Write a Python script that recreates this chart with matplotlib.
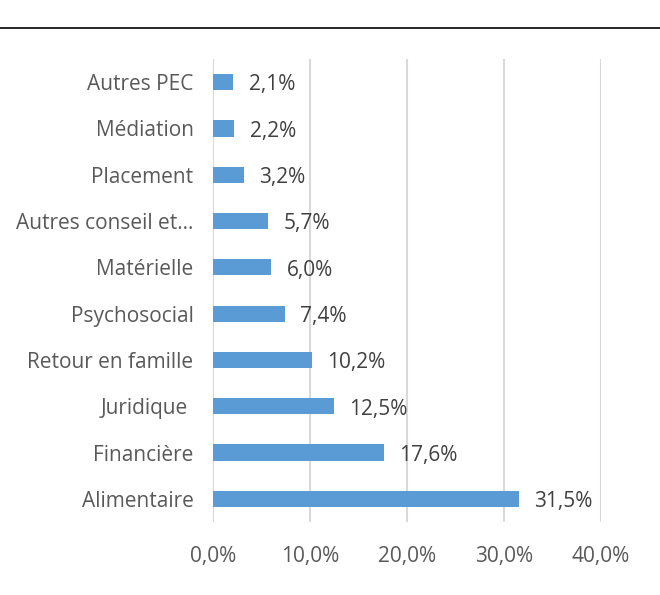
import matplotlib.pyplot as plt
from matplotlib.lines import Line2D

# Données (du bas vers le haut)
categories = ['Alimentaire', 'Financière', 'Juridique ', 'Retour en famille', 'Psychosocial',
              'Matérielle', 'Autres conseil et…', 'Placement', 'Médiation', 'Autres PEC']
valeurs = [31.5, 17.6, 12.5, 10.2, 7.4, 6.0, 5.7, 3.2, 2.2, 2.1]
ticks_x = [0, 10, 20, 30, 40]

plt.rcParams['font.family'] = ['Open Sans', 'DejaVu Sans']

fig = plt.figure(figsize=(6.6, 5.95), dpi=100)
ax = fig.add_axes([213 / 660, 1 - 522 / 595, (601 - 213) / 660, (522 - 59) / 595])

y = range(len(categories))
ax.barh(y, valeurs, height=0.35, color='#5B9BD5', zorder=3)

for i, v in enumerate(valeurs):
    ax.annotate(f"{v:.1f}%".replace('.', ','), (v, i), xytext=(11, -2), textcoords='offset points',
                va='center', ha='left', fontsize=15, color='#404040')

ax.set_xlim(0, 40)
ax.set_ylim(-0.5, len(categories) - 0.5)
ax.set_xticks(ticks_x)
ax.set_xticklabels([f"{t:.1f}%".replace('.', ',') for t in ticks_x])
ax.set_yticks(list(y))
ax.set_yticklabels(categories)
ax.tick_params(axis='both', length=0, labelsize=15, labelcolor='#595959')
ax.tick_params(axis='x', pad=17)
ax.tick_params(axis='y', pad=14)
ax.grid(axis='x', color='#D9D9D9', linewidth=1.5, zorder=0)
for s in ax.spines.values():
    s.set_visible(False)

# trait noir en haut
fig.add_artist(Line2D([0, 1], [1 - 28 / 595, 1 - 28 / 595], color='black', linewidth=1.2,
                      transform=fig.transFigure))

fig.savefig('out.png', dpi=100)
